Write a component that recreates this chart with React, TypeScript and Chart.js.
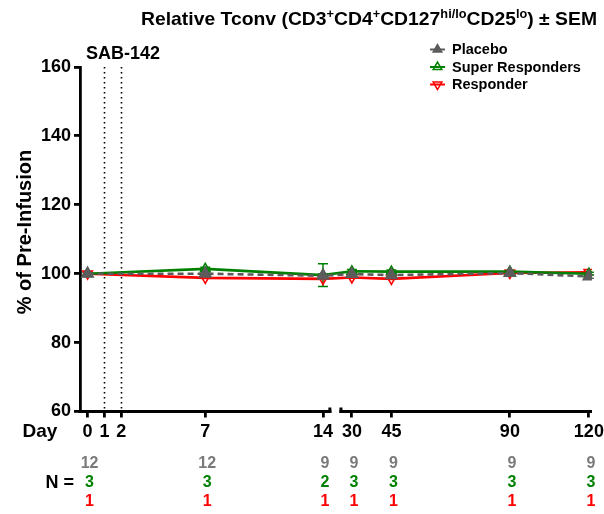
import React, { useEffect, useRef } from 'react';
import { Chart, registerables } from 'chart.js';
import { drawPoint } from 'chart.js/helpers';

Chart.register(...registerables);

// ---- data ----
const days = [0, 7, 14, 30, 45, 90, 120];
const tickDays = [0, 1, 2, 7, 14, 30, 45, 90, 120];
const tickLabels = ['0', '1', '2', '7', '14', '30', '45', '90', '120'];
const yTicks = [60, 80, 100, 120, 140, 160];
const infusionDays = [1, 2];

const placebo = [100, 100, 99.4, 99.9, 99.6, 100.2, 99.2];
const placeboSem = [0.3, 0.5, 0.6, 0.5, 0.5, 0.5, 0.5];
const superResponders = [100, 101.4, 99.6, 100.7, 100.6, 100.6, 100.0];
const superSem = [0.4, 0.5, 3.3, 0.5, 0.5, 0.4, 0.4];
const responder = [100, 98.8, 98.5, 98.9, 98.5, 100.2, 100.4];
const responderSem = [0, 0, 0, 0, 0, 0, 0];

const nPlacebo = ['12', '12', '9', '9', '9', '9', '9'];
const nSuper = ['3', '3', '2', '3', '3', '3', '3'];
const nResponder = ['1', '1', '1', '1', '1', '1', '1'];

const titleParts = [
  { t: 'Relative Tconv (CD3', sup: false },
  { t: '+', sup: true },
  { t: 'CD4', sup: false },
  { t: '+', sup: true },
  { t: 'CD127', sup: false },
  { t: 'hi/lo', sup: true },
  { t: 'CD25', sup: false },
  { t: 'lo', sup: true },
  { t: ') \u00B1 SEM', sup: false },
];

// ---- broken-axis mapping ----
const BREAK_AT = 14;
const RESUME_AT = 30;
const GAP = 1.72;
const RIGHT_K = 0.1566;
const u = (d: number) => (d <= BREAK_AT ? d : BREAK_AT + GAP + (d - RESUME_AT) * RIGHT_K);
const X_MIN = -0.45;
const X_MAX = 30.0;
const LEFT_SEG_END = 14.5;
const RIGHT_SEG_START = 14.98;

const FONT = "'Liberation Sans', Arial, sans-serif";
const GRAY = '#5c5c5c';
const NGRAY = '#7a7a7a';
const GREEN = '#008000';
const RED = '#ff0000';

const series = [
  { label: 'Placebo', values: placebo, sem: placeboSem, color: GRAY, fill: GRAY, rotation: 0, dash: [6, 4], order: 0, radius: 6.5 },
  { label: 'Super Responders', values: superResponders, sem: superSem, color: GREEN, fill: 'rgba(0,0,0,0)', rotation: 0, dash: [], order: 1, radius: 5.5 },
  { label: 'Responder', values: responder, sem: responderSem, color: RED, fill: 'rgba(0,0,0,0)', rotation: 180, dash: [], order: 2, radius: 5.5 },
];

const decorPlugin = {
  id: 'decor',
  beforeDatasetsDraw(chart: any) {
    const { ctx, chartArea } = chart;
    const x = chart.scales.x;
    const y = chart.scales.y;
    ctx.save();
    ctx.strokeStyle = '#000';
    ctx.lineWidth = 1.6;
    ctx.setLineDash([1.6, 3.4]);
    infusionDays.forEach((d) => {
      const px = Math.round(x.getPixelForValue(u(d))) + 0.5;
      ctx.beginPath();
      ctx.moveTo(px, chartArea.top);
      ctx.lineTo(px, chartArea.bottom);
      ctx.stroke();
    });
    ctx.restore();

    // error bars
    chart.data.datasets.forEach((ds: any, di: number) => {
      const meta = chart.getDatasetMeta(di);
      const s = series[di];
      ctx.save();
      ctx.strokeStyle = s.color;
      ctx.lineWidth = 1.5;
      s.values.forEach((v: number, i: number) => {
        const e = s.sem[i];
        if (!e) return;
        const px = meta.data[i].x;
        const yt = y.getPixelForValue(v + e);
        const yb = y.getPixelForValue(v - e);
        ctx.beginPath();
        ctx.moveTo(px, yt);
        ctx.lineTo(px, yb);
        ctx.moveTo(px - 5, yt);
        ctx.lineTo(px + 5, yt);
        ctx.moveTo(px - 5, yb);
        ctx.lineTo(px + 5, yb);
        ctx.stroke();
      });
      ctx.restore();
    });
  },
  afterDraw(chart: any) {
    const { ctx, chartArea } = chart;
    const x = chart.scales.x;
    ctx.save();
    // broken x axis line
    const yb = chartArea.bottom;
    ctx.strokeStyle = '#000';
    ctx.fillStyle = '#000';
    ctx.lineWidth = 2.8;
    const l1 = chartArea.left - 1.4;
    const l2 = x.getPixelForValue(LEFT_SEG_END);
    const r1 = x.getPixelForValue(RIGHT_SEG_START);
    const r2 = chartArea.right;
    ctx.beginPath();
    ctx.moveTo(l1, yb);
    ctx.lineTo(l2, yb);
    ctx.moveTo(r1, yb);
    ctx.lineTo(r2, yb);
    ctx.stroke();
    ctx.fillRect(l2 - 3, yb - 4, 3, 5.4);
    ctx.fillRect(r1, yb - 4, 3, 5.4);

    // title with superscripts
    const mainFont = `bold 19px ${FONT}`;
    const supFont = `bold 12.5px ${FONT}`;
    let total = 0;
    titleParts.forEach((p) => {
      ctx.font = p.sup ? supFont : mainFont;
      total += ctx.measureText(p.t).width;
    });
    const tx0 = 141;
    const tx1 = 597;
    const sx = (tx1 - tx0) / total;
    ctx.save();
    ctx.translate(tx0, 25);
    ctx.scale(sx, 1);
    ctx.textBaseline = 'alphabetic';
    ctx.textAlign = 'left';
    let cx = 0;
    titleParts.forEach((p) => {
      ctx.font = p.sup ? supFont : mainFont;
      ctx.fillText(p.t, cx, p.sup ? -7 : 0);
      cx += ctx.measureText(p.t).width;
    });
    ctx.restore();

    // SAB-142
    ctx.font = `bold 18px ${FONT}`;
    ctx.textAlign = 'left';
    ctx.textBaseline = 'alphabetic';
    ctx.fillText('SAB-142', 86, 59);

    // y title
    ctx.save();
    ctx.translate(25, 232);
    ctx.rotate(-Math.PI / 2);
    ctx.font = `bold 20px ${FONT}`;
    ctx.textAlign = 'center';
    ctx.textBaseline = 'middle';
    ctx.fillText('% of Pre-Infusion', 0, 0);
    ctx.restore();

    // Day label
    ctx.font = `bold 19px ${FONT}`;
    ctx.textAlign = 'center';
    ctx.textBaseline = 'middle';
    ctx.fillText('Day', 40, 432);

    // N rows
    ctx.font = `bold 18px ${FONT}`;
    ctx.textAlign = 'right';
    ctx.fillText('N =', 74, 483);
    ctx.font = `bold 16px ${FONT}`;
    ctx.textAlign = 'center';
    const rows = [
      { vals: nPlacebo, color: NGRAY, y: 464 },
      { vals: nSuper, color: GREEN, y: 483 },
      { vals: nResponder, color: RED, y: 502 },
    ];
    rows.forEach((r) => {
      ctx.fillStyle = r.color;
      days.forEach((d, i) => {
        ctx.fillText(r.vals[i], x.getPixelForValue(u(d)) + 2, r.y);
      });
    });

    // legend
    const legY = [49.5, 67, 84.5];
    series.forEach((s, i) => {
      const ly = legY[i];
      ctx.strokeStyle = s.color;
      ctx.lineWidth = 2;
      ctx.setLineDash([]);
      ctx.beginPath();
      ctx.moveTo(430, ly);
      ctx.lineTo(445, ly);
      ctx.stroke();
      ctx.fillStyle = s.fill;
      ctx.strokeStyle = s.color;
      ctx.lineWidth = 1.5;
      drawPoint(ctx, { pointStyle: 'triangle', rotation: s.rotation, radius: 5, borderWidth: 1.5 }, 437.5, ly);
      ctx.fillStyle = '#000';
      ctx.font = `bold 14.5px ${FONT}`;
      ctx.textAlign = 'left';
      ctx.textBaseline = 'middle';
      ctx.fillText(s.label, 452, ly + 0.5);
    });
    ctx.restore();
  },
};

export default function App() {
  const ref = useRef<HTMLCanvasElement | null>(null);
  useEffect(() => {
    document.body.style.margin = '0';
    const canvas = ref.current;
    if (!canvas) return;
    const chart = new Chart(canvas, {
      type: 'line',
      data: {
        datasets: series.map((s) => ({
          label: s.label,
          data: days.map((d, i) => ({ x: u(d), y: s.values[i] })),
          borderColor: s.color,
          backgroundColor: s.fill,
          borderWidth: 2.6,
          borderDash: s.dash,
          pointStyle: 'triangle',
          rotation: s.rotation,
          pointRadius: s.radius,
          pointBorderWidth: 1.6,
          pointBorderColor: s.color,
          pointBackgroundColor: s.fill,
          tension: 0,
          fill: false,
          order: s.order,
        })),
      },
      options: {
        animation: false,
        responsive: false,
        maintainAspectRatio: false,
        layout: { padding: { top: 67, right: 12, left: 0, bottom: 0 } },
        plugins: { legend: { display: false }, title: { display: false }, tooltip: { enabled: false } },
        scales: {
          x: {
            type: 'linear',
            min: X_MIN,
            max: X_MAX,
            afterBuildTicks: (s: any) => {
              s.ticks = tickDays.map((d) => ({ value: u(d) }));
            },
            afterFit: (s: any) => {
              s.height = 102.5;
              s.paddingLeft = 0;
              s.paddingRight = 0;
            },
            ticks: {
              autoSkip: false,
              maxRotation: 0,
              minRotation: 0,
              padding: 4,
              color: '#000',
              font: { family: FONT, size: 18, weight: 'bold' },
              callback: (_v: any, i: number) => tickLabels[i],
            },
            grid: { display: true, drawOnChartArea: false, drawTicks: true, tickLength: 6, lineWidth: 2.8, color: '#000' },
            border: { display: false },
          },
          y: {
            type: 'linear',
            min: 60,
            max: 160,
            afterBuildTicks: (s: any) => {
              s.ticks = yTicks.map((v) => ({ value: v }));
            },
            afterFit: (s: any) => {
              s.width = 80;
              s.paddingTop = 0;
              s.paddingBottom = 0;
            },
            ticks: {
              padding: 3,
              color: '#000',
              font: { family: FONT, size: 18, weight: 'bold' },
            },
            grid: { display: true, drawOnChartArea: false, drawTicks: true, tickLength: 6, lineWidth: 2.8, color: '#000' },
            border: { display: true, width: 2.8, color: '#000' },
          },
        },
      } as any,
      plugins: [decorPlugin],
    });
    return () => chart.destroy();
  }, []);
  return <canvas ref={ref} width={604} height={514} style={{ display: 'block' }} />;
}
